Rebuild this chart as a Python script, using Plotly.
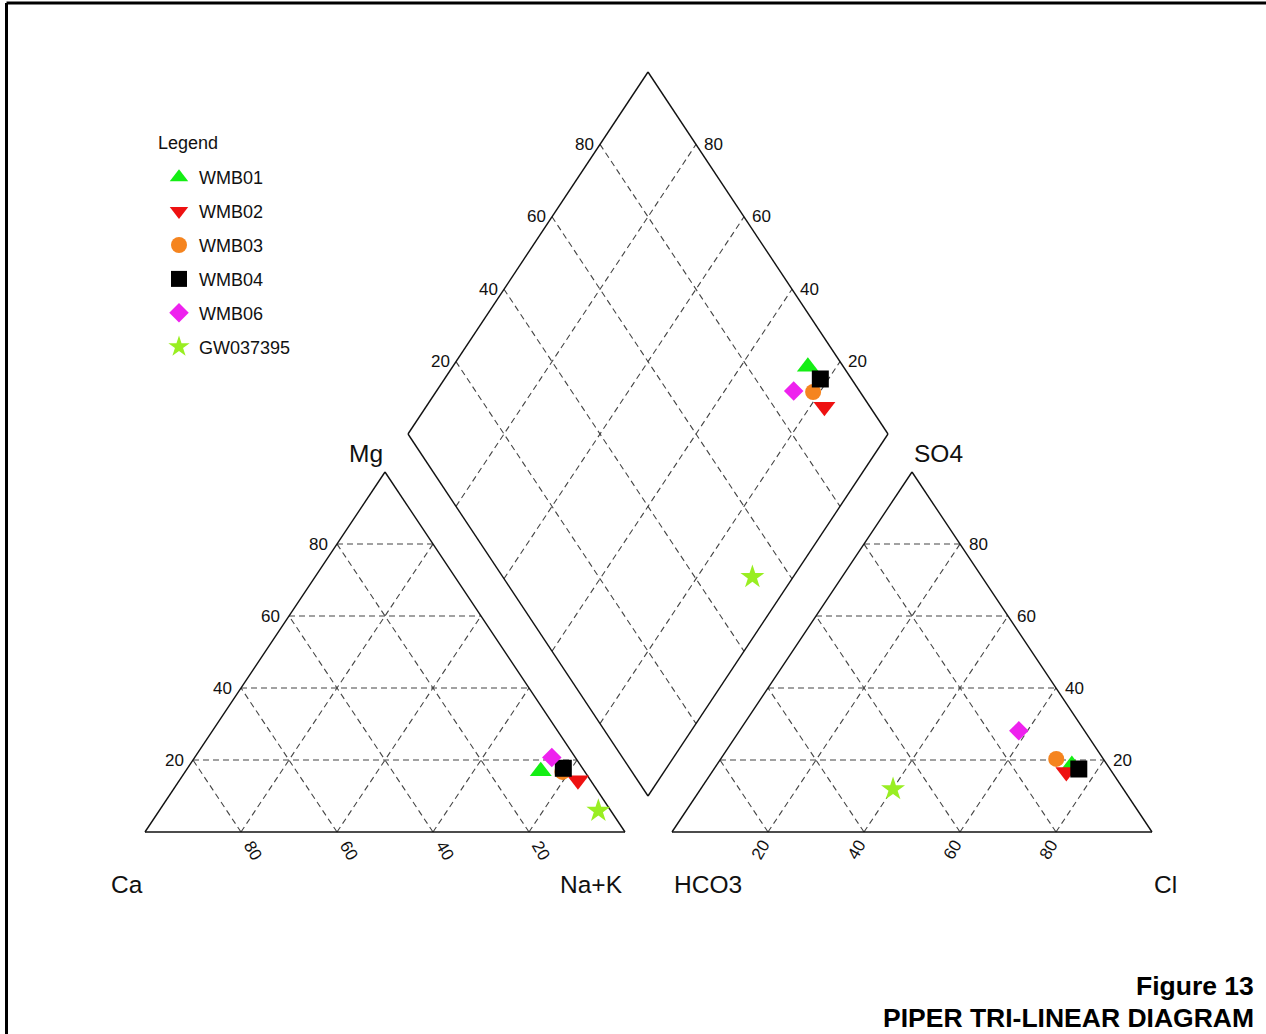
import plotly.graph_objects as go

# ---------------- data (percent of meq) ----------------
samples = ["WMB01", "WMB02", "WMB03", "WMB04", "WMB06", "GW037395"]
ca = [9.1, 2.6, 4.7, 4.0, 4.9, 2.6]
mg = [16.9, 14.4, 16.7, 17.7, 20.7, 5.9]
na_k = [74.0, 83.0, 78.6, 78.3, 74.4, 91.5]
hco3 = [7.4, 9.5, 9.8, 6.5, 13.7, 48.0]
so4 = [18.6, 16.7, 20.3, 17.5, 28.1, 11.9]
cl = [74.0, 73.8, 69.9, 76.0, 58.2, 40.1]

colors = ["#14EE14", "#EE1111", "#F5841F", "#000000", "#EE22EE", "#99EE22"]
symbols = ["triangle-up", "triangle-down", "circle", "square", "diamond", "star"]
sizes = [19, 19, 16, 17, 15, 18]

grid_vals = [20, 40, 60, 80]
tick_text = ["20", "40", "60", "80"]

# ---------------- geometry (layout, in figure pixels) ----------------
W, H = 1266, 1034
TRI_W, TRI_H = 480, 360
CAT_X0, BASE_Y = 145, 832
AN_X0 = 672
D_BX, D_BY = 648, 796          # bottom vertex of diamond
D_HW, D_HH = 240, 362


def cat_xy(na, m):
    return CAT_X0 + TRI_W * (na + m / 2) / 100, BASE_Y - TRI_H * m / 100


def an_xy(c, s):
    return AN_X0 + TRI_W * (c + s / 2) / 100, BASE_Y - TRI_H * s / 100


def dia_xy(na, a):
    return (D_BX + D_HW * (a - 100 + na) / 100,
            D_BY - D_HH * ((100 - na) + a) / 100)


fig = go.Figure()

dash_style = dict(color="#444444", width=1.1, dash="6px,4px")
solid_style = dict(color="#111111", width=1.4)


def add_lines(segs, style):
    xs, ys = [], []
    for (a, b) in segs:
        xs += [a[0], b[0], None]
        ys += [a[1], b[1], None]
    fig.add_trace(go.Scatter(x=xs, y=ys, mode="lines", line=style,
                             hoverinfo="skip", showlegend=False))


# grid lines
segs = []
for v in grid_vals:
    # cation triangle
    segs.append((cat_xy(0, v), cat_xy(100 - v, v)))          # const Mg
    segs.append((cat_xy(100 - v, 0), cat_xy(0, 100 - v)))    # const Ca
    segs.append((cat_xy(v, 0), cat_xy(v, 100 - v)))          # const Na+K
    # anion triangle
    segs.append((an_xy(0, v), an_xy(100 - v, v)))            # const SO4
    segs.append((an_xy(v, 0), an_xy(v, 100 - v)))            # const Cl
    segs.append((an_xy(100 - v, 0), an_xy(0, 100 - v)))      # const HCO3
    # diamond
    segs.append((dia_xy(v, 0), dia_xy(v, 100)))
    segs.append((dia_xy(0, v), dia_xy(100, v)))
add_lines(segs, dash_style)

# outlines
outl = [
    (cat_xy(0, 0), cat_xy(100, 0)), (cat_xy(100, 0), cat_xy(0, 100)), (cat_xy(0, 100), cat_xy(0, 0)),
    (an_xy(0, 0), an_xy(100, 0)), (an_xy(100, 0), an_xy(0, 100)), (an_xy(0, 100), an_xy(0, 0)),
    (dia_xy(100, 0), dia_xy(0, 0)), (dia_xy(0, 0), dia_xy(0, 100)),
    (dia_xy(0, 100), dia_xy(100, 100)), (dia_xy(100, 100), dia_xy(100, 0)),
]
add_lines(outl, solid_style)

# sample points
for i, name in enumerate(samples):
    cx, cy = cat_xy(na_k[i], mg[i])
    ax, ay = an_xy(cl[i], so4[i])
    dx, dy = dia_xy(na_k[i], cl[i] + so4[i])
    fig.add_trace(go.Scatter(
        x=[cx, ax, dx], y=[cy, ay, dy], mode="markers", name=name,
        legendgroup=name,
        marker=dict(symbol=symbols[i], color=colors[i], size=sizes[i],
                    line=dict(width=0)),
        hoverinfo="name",
    ))

ann = []
FONT = "Liberation Sans, Arial, sans-serif"
tick_font = dict(family=FONT, size=17, color="#111111")
big_font = dict(family=FONT, size=24.5, color="#111111")

for v, t in zip(grid_vals, tick_text):
    # cation: Mg on left edge
    x, y = cat_xy(0, v)
    ann.append(dict(x=x, y=y, text=t, xanchor="right", yanchor="middle", xshift=-7, font=tick_font))
    # cation: Ca on base (rotated)
    x, y = cat_xy(v, 0)
    ann.append(dict(x=x, y=y, text=str(100 - v), xanchor="center", yanchor="middle",
                    xshift=12, yshift=-18, textangle=60, font=tick_font))
    # anion: SO4 on right edge
    x, y = an_xy(100 - v, v)
    ann.append(dict(x=x, y=y, text=t, xanchor="left", yanchor="middle", xshift=7, font=tick_font))
    # anion: Cl on base (rotated)
    x, y = an_xy(v, 0)
    ann.append(dict(x=x, y=y, text=t, xanchor="center", yanchor="middle",
                    xshift=-8, yshift=-18, textangle=-60, font=tick_font))
    # diamond: SO4+Cl on upper-left edge
    x, y = dia_xy(0, v)
    ann.append(dict(x=x, y=y, text=t, xanchor="right", yanchor="middle", xshift=-4, font=tick_font))
    # diamond: Ca+Mg on upper-right edge
    x, y = dia_xy(100 - v, 100)
    ann.append(dict(x=x, y=y, text=t, xanchor="left", yanchor="middle", xshift=6, font=tick_font))

# corner labels
x, y = cat_xy(0, 0)
ann.append(dict(x=x, y=y, text="Ca", xanchor="right", yanchor="middle", yshift=-52, font=big_font))
x, y = cat_xy(100, 0)
ann.append(dict(x=x, y=y, text="Na+K", xanchor="right", yanchor="middle", yshift=-52, font=big_font))
x, y = cat_xy(0, 100)
ann.append(dict(x=x, y=y, text="Mg", xanchor="right", yanchor="middle", yshift=19, font=big_font))
x, y = an_xy(0, 0)
ann.append(dict(x=x, y=y, text="HCO3", xanchor="left", yanchor="middle", yshift=-52, font=big_font))
x, y = an_xy(100, 0)
ann.append(dict(x=x, y=y, text="Cl", xanchor="left", yanchor="middle", yshift=-52, font=big_font))
x, y = an_xy(0, 100)
ann.append(dict(x=x, y=y, text="SO4", xanchor="left", yanchor="middle", yshift=19, font=big_font))

# legend heading
ann.append(dict(xref="paper", yref="paper", x=156 / W, y=1 - 143 / H, text="Legend",
                xanchor="left", yanchor="middle", font=dict(family=FONT, size=18, color="#111111")))

# figure caption
title_font = dict(family=FONT, size=26.5, color="#000000")
ann.append(dict(xref="paper", yref="paper", x=1256 / W, y=1 - 986 / H, text="<b>Figure 13</b>",
                xanchor="right", yanchor="middle", font=title_font))
ann.append(dict(xref="paper", yref="paper", x=1256 / W, y=1 - 1018 / H, text="<b>PIPER TRI-LINEAR DIAGRAM</b>",
                xanchor="right", yanchor="middle", font=title_font))

for a in ann:
    a.setdefault("showarrow", False)

fig.update_layout(
    width=W, height=H,
    margin=dict(l=0, r=0, t=0, b=0),
    paper_bgcolor="white", plot_bgcolor="white",
    xaxis=dict(range=[0, W], visible=False, fixedrange=True),
    yaxis=dict(range=[H, 0], visible=False, fixedrange=True),
    annotations=ann,
    showlegend=True,
    legend=dict(
        x=159 / W, y=1 - 159 / H, xanchor="left", yanchor="top",
        font=dict(family=FONT, size=18, color="#111111"),
        bgcolor="rgba(0,0,0,0)", borderwidth=0,
        tracegroupgap=7.5, itemsizing="trace",
    ),
    shapes=[
        dict(type="line", xref="x", yref="y", x0=6.5, y0=3, x1=6.5, y1=H, line=dict(color="black", width=3)),
        dict(type="line", xref="x", yref="y", x0=6.5, y0=3, x1=W, y1=3, line=dict(color="black", width=3)),
    ],
)

fig.write_html("out.html", config={"displayModeBar": False},
               post_script="document.body.style.margin='0';document.body.style.overflow='hidden';")
